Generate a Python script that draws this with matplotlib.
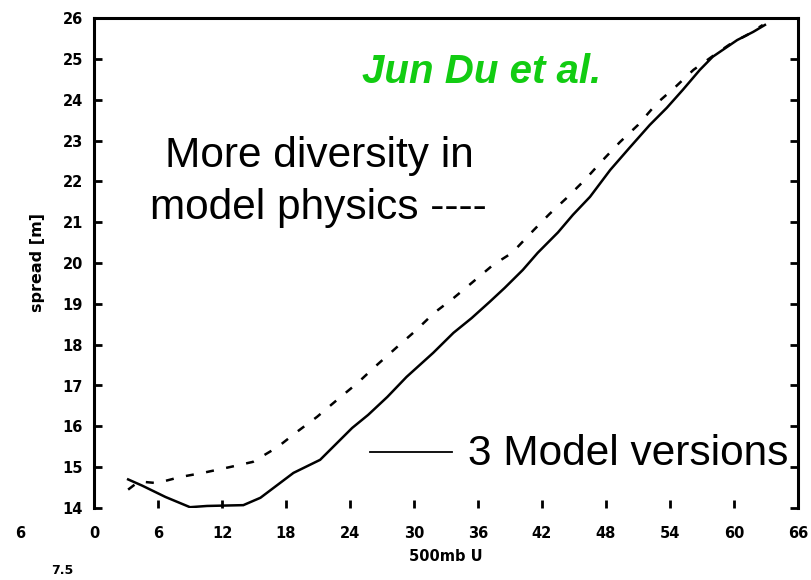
import matplotlib
matplotlib.use("Agg")
import matplotlib.pyplot as plt

# Spread vs. 500mb U for two ensemble configurations
x_versions = [3.2, 4.5, 6.7, 9.0, 10.6, 14.0, 15.6, 18.7, 21.2, 24.2, 25.7, 27.5,
              29.3, 31.8, 33.7, 35.4, 37.1, 38.5, 40.2, 41.6, 43.5, 44.9, 46.5,
              48.4, 50.2, 52.1, 53.7, 55.2, 56.8, 58.0, 60.3, 61.8, 62.9]
y_versions = [14.70, 14.55, 14.27, 14.02, 14.05, 14.07, 14.25, 14.86, 15.18, 15.96,
              16.28, 16.72, 17.21, 17.80, 18.29, 18.65, 19.05, 19.39, 19.83, 20.25,
              20.75, 21.18, 21.62, 22.28, 22.82, 23.38, 23.80, 24.24, 24.73, 25.05,
              25.46, 25.66, 25.83]

x_physics = [3.2, 4.2, 5.9, 8.1, 10.2, 12.7, 14.9, 17.2, 19.0, 20.9, 22.8, 24.7,
             26.3, 28.4, 30.1, 31.9, 33.7, 35.4, 37.4, 39.2, 41.2, 42.7, 44.3,
             46.0, 47.7, 49.3, 51.0, 52.8, 54.5, 56.2, 58.4, 59.8, 61.2, 62.7]
y_physics = [14.45, 14.65, 14.61, 14.76, 14.86, 15.00, 15.13, 15.49, 15.86, 16.23,
             16.65, 17.06, 17.45, 17.94, 18.33, 18.78, 19.14, 19.51, 19.95, 20.25,
             20.80, 21.20, 21.59, 22.03, 22.52, 22.96, 23.38, 23.92, 24.31, 24.73,
             25.14, 25.39, 25.58, 25.83]

x_ticks = [0, 6, 12, 18, 24, 30, 36, 42, 48, 54, 60, 66]
y_ticks = [14, 15, 16, 17, 18, 19, 20, 21, 22, 23, 24, 25, 26]

W, H = 812, 580
fig = plt.figure(figsize=(W / 100, H / 100), dpi=100)
fig.patch.set_facecolor("white")

left, right, top, bottom = 94, 798, 18, 508
ax = fig.add_axes([left / W, 1 - bottom / H, (right - left) / W, (bottom - top) / H])

ax.plot(x_versions, y_versions, color="black", lw=1.8, solid_joinstyle="miter")
ax.plot(x_physics, y_physics, color="black", lw=1.8, dashes=(3.2, 5.0))

ax.set_xlim(0, 66)
ax.set_ylim(14, 26)
ax.set_xticks(x_ticks)
ax.set_yticks(y_ticks)

tick_font = dict(family="DejaVu Sans", weight="bold", size=10.5)
ax.set_xticklabels([str(v) for v in x_ticks], **tick_font)
ax.set_yticklabels([str(v) for v in y_ticks], **tick_font)

ax.spines["bottom"].set_visible(False)
for side in ("left", "right", "top"):
    ax.spines[side].set_linewidth(2.2)

ax.tick_params(axis="y", which="both", direction="in", length=6, width=2,
               left=True, right=True, labelleft=True, labelright=False, pad=8)
ax.tick_params(axis="x", which="both", direction="in", length=6, width=2,
               bottom=True, top=False, pad=13)

ax.set_xlabel("500mb U", family="DejaVu Sans", weight="bold", size=10.5)
ax.xaxis.set_label_coords(0.5, -0.098)
ax.xaxis.label.set_va("center")
ax.set_ylabel("spread [m]", family="DejaVu Sans", weight="bold", size=11.5)
ax.yaxis.set_label_coords(-0.08, 0.5)
ax.yaxis.label.set_va("center")


def fx(px):
    return px / W


def fy(py):
    return 1 - py / H


body = dict(family="Liberation Sans", size=30.5, color="black")
fig.text(fx(319), fy(167), "More diversity in", ha="center", va="baseline", **body)
fig.text(fx(318), fy(219), "model physics ----", ha="center", va="baseline", **body)
fig.text(fx(468), fy(465), "3 Model versions", ha="left", va="baseline", **body)
fig.add_artist(plt.Line2D([fx(370), fx(452)], [fy(452), fy(452)], color="black", lw=1.3))

fig.text(fx(362), fy(83), "Jun Du et al.", ha="left", va="baseline",
         family="Liberation Sans", weight="bold", style="italic", size=29,
         color="#12cc12")

# stray labels at the lower left edge of the figure
fig.text(fx(20), fy(533), "6", ha="center", va="center", **tick_font)
fig.text(fx(62), fy(570), "7.5", ha="center", va="center",
         family="DejaVu Sans", weight="bold", size=9)

fig.savefig("out.png", dpi=100, facecolor="white")
